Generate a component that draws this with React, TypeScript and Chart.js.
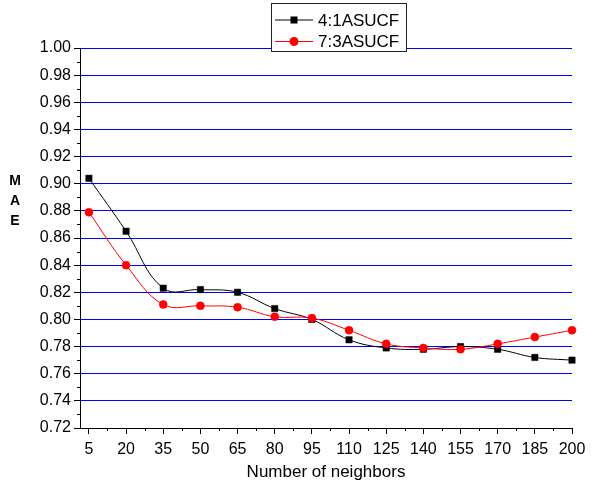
import { useEffect, useRef } from 'react';
import { Chart, registerables } from 'chart.js';

Chart.register(...registerables);

// ---- data ----
const neighbors = [5, 20, 35, 50, 65, 80, 95, 110, 125, 140, 155, 170, 185, 200];
const mae41 = [0.904, 0.865, 0.823, 0.822, 0.820, 0.808, 0.800, 0.785, 0.779, 0.778, 0.780, 0.778, 0.772, 0.770];
const mae73 = [0.879, 0.840, 0.811, 0.810, 0.809, 0.802, 0.801, 0.792, 0.782, 0.779, 0.778, 0.782, 0.787, 0.792];
const yTickValues = [0.72, 0.74, 0.76, 0.78, 0.80, 0.82, 0.84, 0.86, 0.88, 0.90, 0.92, 0.94, 0.96, 0.98, 1.0];
const seriesLabels = ['4:1ASUCF', '7:3ASUCF'];
const xTitle = 'Number of neighbors';
const yTitleLetters = ['M', 'A', 'E'];

const FONT = "'Liberation Sans', Arial, sans-serif";

const minorTicks = {
  id: 'minorTicks',
  afterDraw(chart: any) {
    const { ctx, chartArea, scales } = chart;
    const x = scales.x;
    const y = scales.y;
    ctx.save();
    ctx.strokeStyle = '#000';
    ctx.lineWidth = 1;
    ctx.beginPath();
    for (let i = 0; i < yTickValues.length - 1; i++) {
      const v = (yTickValues[i] + yTickValues[i + 1]) / 2;
      const py = Math.round(y.getPixelForValue(v)) + 0.5;
      ctx.moveTo(chartArea.left - 3, py);
      ctx.lineTo(chartArea.left, py);
    }
    for (let i = 0; i < neighbors.length - 1; i++) {
      const v = (neighbors[i] + neighbors[i + 1]) / 2;
      const px = Math.round(x.getPixelForValue(v)) + 0.5;
      ctx.moveTo(px, chartArea.bottom);
      ctx.lineTo(px, chartArea.bottom + 3);
    }
    ctx.stroke();
    ctx.restore();
  },
};

const legendBox = {
  id: 'legendBox',
  afterDraw(chart: any) {
    const { ctx } = chart;
    ctx.save();
    const bx = 271.5, by = 3.5, bw = 135, bh = 48;
    ctx.fillStyle = '#fff';
    ctx.fillRect(bx, by, bw, bh);
    ctx.strokeStyle = '#222';
    ctx.lineWidth = 1;
    ctx.strokeRect(bx, by, bw, bh);
    chart.data.datasets.forEach((ds: any, i: number) => {
      const ry = 20 + i * 21.5;
      ctx.strokeStyle = ds.borderColor;
      ctx.lineWidth = 1;
      ctx.beginPath();
      ctx.moveTo(275, ry);
      ctx.lineTo(313, ry);
      ctx.stroke();
      ctx.fillStyle = ds.backgroundColor;
      if (ds.pointStyle === 'rect') {
        ctx.fillRect(294 - 3.5, ry - 3.5, 7, 7);
      } else {
        ctx.beginPath();
        ctx.arc(294, ry, 4.5, 0, Math.PI * 2);
        ctx.fill();
      }
      ctx.fillStyle = '#000';
      ctx.font = `17px ${FONT}`;
      ctx.textAlign = 'left';
      ctx.textBaseline = 'middle';
      ctx.fillText(ds.label, 318, ry + 1);
    });
    ctx.restore();
  },
};

const yTitle = {
  id: 'yTitle',
  afterDraw(chart: any) {
    const { ctx } = chart;
    ctx.save();
    ctx.fillStyle = '#000';
    ctx.font = `bold 14px ${FONT}`;
    ctx.textAlign = 'center';
    ctx.textBaseline = 'middle';
    yTitleLetters.forEach((ch, i) => {
      ctx.fillText(ch, 15, 181 + i * 20);
    });
    ctx.restore();
  },
};

export default function App() {
  const ref = useRef<HTMLCanvasElement>(null);

  useEffect(() => {
    if (!ref.current) return;
    const chart = new Chart(ref.current, {
      type: 'line',
      data: {
        datasets: [
          {
            label: seriesLabels[0],
            data: neighbors.map((n, i) => ({ x: n, y: mae41[i] })),
            borderColor: '#000',
            backgroundColor: '#000',
            borderWidth: 1,
            pointStyle: 'rect',
            pointRadius: 4.5,
            pointBorderWidth: 0.5,
            tension: 0.4,
            clip: false,
            order: 2,
          },
          {
            label: seriesLabels[1],
            data: neighbors.map((n, i) => ({ x: n, y: mae73[i] })),
            borderColor: '#ff0000',
            backgroundColor: '#ff0000',
            borderWidth: 1,
            pointStyle: 'circle',
            pointRadius: 4,
            pointBorderWidth: 0.5,
            tension: 0.4,
            clip: false,
            order: 1,
          },
        ] as any,
      },
      options: {
        responsive: false,
        animation: false,
        layout: { padding: { top: 48, right: 25, left: 0, bottom: 0 } },
        plugins: { legend: { display: false }, tooltip: { enabled: false } },
        scales: {
          x: {
            type: 'linear',
            min: 1.4,
            max: 200,
            afterBuildTicks: (s: any) => {
              s.ticks = neighbors.map((v) => ({ value: v }));
            },
            afterFit: (s: any) => {
              s.height = 57;
            },
            grid: { drawOnChartArea: false, tickLength: 6, tickColor: '#000', tickWidth: 1 },
            border: { color: '#000', width: 1 },
            ticks: {
              color: '#000',
              font: { family: FONT, size: 16 },
              padding: 6,
              maxRotation: 0,
              autoSkip: false,
              callback: (v: any) => String(v),
            },
            title: {
              display: true,
              text: xTitle,
              color: '#000',
              font: { family: FONT, size: 17 },
              padding: { top: 0, bottom: 2 },
            },
          },
          y: {
            type: 'linear',
            min: 0.72,
            max: 1.0,
            afterBuildTicks: (s: any) => {
              s.ticks = yTickValues.map((v) => ({ value: v }));
            },
            afterFit: (s: any) => {
              s.width = 80;
            },
            grid: {
              color: (c: any) => (c.tick && c.tick.value > 0.721 ? '#0000ff' : 'rgba(0,0,0,0)'),
              tickColor: '#000',
              tickLength: 6,
              lineWidth: 1,
            },
            border: { color: '#000', width: 1 },
            ticks: {
              color: '#000',
              font: { family: FONT, size: 16 },
              padding: 3,
              callback: (v: any) => Number(v).toFixed(2),
            },
          },
        },
      } as any,
      plugins: [minorTicks, legendBox, yTitle],
    });
    return () => chart.destroy();
  }, []);

  return (
    <div style={{ position: 'fixed', left: 0, top: 0, width: 597, height: 485, background: '#fff' }}>
      <canvas ref={ref} width={597} height={485} style={{ display: 'block' }} />
    </div>
  );
}
